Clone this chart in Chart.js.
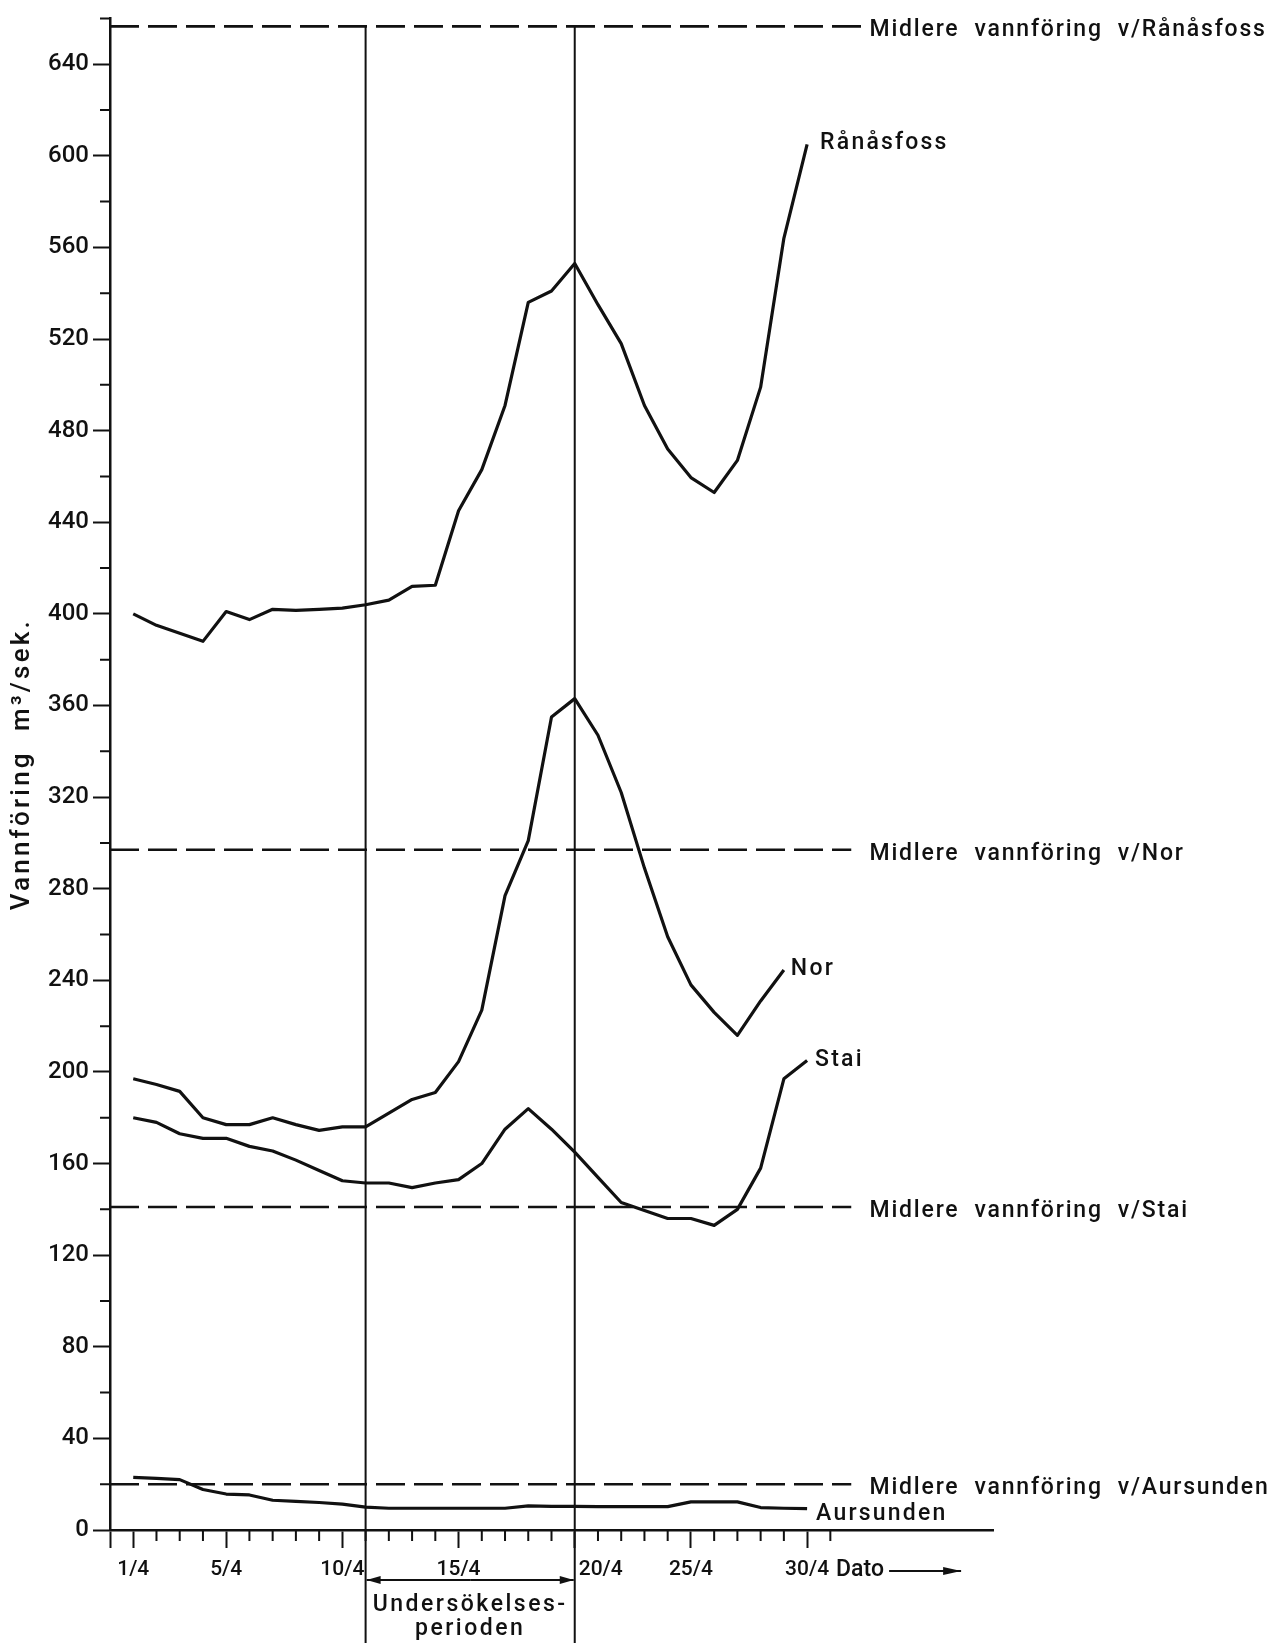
<!DOCTYPE html>
<html>
<head>
<meta charset="utf-8">
<script src="https://cdn.jsdelivr.net/npm/chart.js@4.4.0/dist/chart.umd.min.js"></script>
<style>
  html, body { margin: 0; padding: 0; background: #fff; }
  #wrap { width: 1280px; height: 1643px; position: relative; }
</style>
</head>
<body>
<div id="wrap"><canvas id="vannforingChart"></canvas></div>
<script>
// Dager i april (1/4 - 30/4)
const dager = [1, 2, 3, 4, 5, 6, 7, 8, 9, 10, 11, 12, 13, 14, 15, 16, 17, 18, 19, 20, 21, 22, 23, 24, 25, 26, 27, 28, 29, 30];

// Vannføring m3/sek
const ranasfoss = [400, 395, 391.5, 388, 401, 397.5, 402, 401.5, 402, 402.5, 404, 406, 412, 412.5, 445, 463, 491, 536, 541, 553, 535, 518, 491, 472, 459.5, 453, 467, 499, 564, 605];
const nor = [197, 194.5, 191.5, 180, 177, 177, 180, 177, 174.5, 176, 176, 182, 188, 191, 204.5, 227, 277, 301, 355, 363, 347, 322, 289, 259, 238, 226, 216, 231, 244.5];
const stai = [180, 178, 173, 171, 171, 167.5, 165.5, 161.5, 157, 152.5, 151.5, 151.5, 149.5, 151.5, 153, 160, 175, 184, 175, 165, 154, 143, 139.5, 136, 136, 133, 140, 158, 197, 205];
const aursunden = [23, 22.5, 22, 17.7, 15.7, 15.3, 13, 12.5, 12, 11.3, 10, 9.5, 9.5, 9.5, 9.5, 9.5, 9.5, 10.5, 10.3, 10.3, 10.2, 10.2, 10.2, 10.2, 12.3, 12.3, 12.3, 9.8, 9.5, 9.3];

// Midlere vannføring
const middelNavn = ['Rånåsfoss', 'Nor', 'Stai', 'Aursunden'];
const middelVerdi = [656.5, 297, 141, 20];

// Undersøkelsesperioden
const periodeStart = 11;
const periodeSlutt = 20;

// Akser
const xTickDager = [0, 1, 5, 10, 15, 20, 25, 30];
const yTickVerdier = [0, 40, 80, 120, 160, 200, 240, 280, 320, 360, 400, 440, 480, 520, 560, 600, 640];

const svart = '#111';
const familie = 'Roboto, "DejaVu Sans", sans-serif';
const tekstFont = '500 23px ' + familie;

function tilPunkter(verdier) {
    return verdier.map((v, i) => ({ x: dager[i], y: v }));
}

const serier = [
    { navn: 'Rånåsfoss', data: ranasfoss, dx: 13, dy: -1 },
    { navn: 'Nor', data: nor, dx: 7, dy: -1 },
    { navn: 'Stai', data: stai, dx: 8, dy: 0 },
    { navn: 'Aursunden', data: aursunden, dx: 9, dy: 6 }
];

const datasets = [];

// Stiplede middellinjer
middelVerdi.forEach((v, i) => {
    datasets.push({
        label: 'Midlere ' + middelNavn[i],
        data: [{ x: 0, y: v }, { x: i === 0 ? 32.6 : 31.9, y: v }],
        borderColor: svart,
        borderWidth: 2.6,
        borderDash: [29, 9],
        pointRadius: 0
    });
});

// Loddrette linjer for perioden
[periodeStart, periodeSlutt].forEach(d => {
    datasets.push({
        label: 'periode ' + d,
        data: [{ x: d, y: 657 }, { x: d, y: -50 }],
        borderColor: svart,
        borderWidth: 2,
        pointRadius: 0,
        clip: false
    });
});

serier.forEach(s => {
    datasets.push({
        label: s.navn,
        data: tilPunkter(s.data),
        borderColor: svart,
        borderWidth: 3.2,
        borderJoinStyle: 'round',
        pointRadius: 0,
        tension: 0
    });
});

function pil(ctx, x0, x1, y, tupp) {
    ctx.beginPath();
    ctx.moveTo(x0, y);
    ctx.lineTo(x1, y);
    ctx.stroke();
    const retning = Math.sign(x1 - x0);
    ctx.beginPath();
    ctx.moveTo(x1, y);
    ctx.lineTo(x1 - retning * tupp, y - 4);
    ctx.lineTo(x1 - retning * tupp, y + 4);
    ctx.closePath();
    ctx.fill();
}

const annotasjoner = {
    id: 'annotasjoner',
    afterDraw(chart) {
        const { ctx, scales: { x, y } } = chart;
        ctx.save();
        ctx.strokeStyle = svart;
        ctx.fillStyle = svart;
        ctx.lineWidth = 2;

        // Små tikkstreker
        ctx.beginPath();
        for (let d = 2; d <= 31; d++) {
            if (xTickDager.includes(d)) continue;
            const px = x.getPixelForValue(d);
            ctx.moveTo(px, y.bottom);
            ctx.lineTo(px, y.bottom + 11);
        }
        for (let v = 20; v <= 660; v += 40) {
            const py = y.getPixelForValue(v);
            ctx.moveTo(x.left, py);
            ctx.lineTo(x.left - 10, py);
        }
        ctx.stroke();

        ctx.font = tekstFont;
        ctx.letterSpacing = '1.8px';
        ctx.textBaseline = 'middle';

        // Tekst for middellinjer
        ctx.textAlign = 'left';
        const tekstX = x.getPixelForValue(32.6) + 2;
        middelVerdi.forEach((v, i) => {
            ctx.fillText('Midlere  vannföring  v/' + middelNavn[i], tekstX, y.getPixelForValue(v) + 4);
        });

        // Navn ved enden av kurvene
        ctx.letterSpacing = '2.2px';
        serier.forEach(s => {
            const n = s.data.length - 1;
            ctx.fillText(s.navn, x.getPixelForValue(dager[n]) + s.dx, y.getPixelForValue(s.data[n]) + s.dy);
        });

        // 20/4 står til høyre for linjen
        ctx.letterSpacing = '0px';
        ctx.font = '500 21px ' + familie;
        ctx.fillText('20/4', x.getPixelForValue(20) + 4, y.bottom + 40);

        // Dato-pil
        ctx.font = tekstFont;
        ctx.fillText('Dato', x.getPixelForValue(30) + 29, y.bottom + 40);
        pil(ctx, x.getPixelForValue(30) + 82, x.getPixelForValue(30) + 154, y.bottom + 41, 18);

        // Undersøkelsesperioden
        const p0 = x.getPixelForValue(periodeStart);
        const p1 = x.getPixelForValue(periodeSlutt);
        const py = y.bottom + 50;
        ctx.lineWidth = 2;
        pil(ctx, (p0 + p1) / 2, p0 + 1, py, 14);
        pil(ctx, (p0 + p1) / 2, p1 - 1, py, 14);
        ctx.textAlign = 'center';
        ctx.letterSpacing = '2.5px';
        ctx.fillText('Undersökelses-', (p0 + p1) / 2, py + 25);
        ctx.fillText('perioden', (p0 + p1) / 2, py + 49);

        // Aksetittel
        ctx.save();
        ctx.translate(22, (y.top + y.bottom) / 2 - 10);
        ctx.rotate(-Math.PI / 2);
        ctx.font = '500 26px ' + familie;
        ctx.letterSpacing = '3.2px';
        ctx.fillText('Vannföring  m³/sek.', 0, 0);
        ctx.restore();

        ctx.restore();
    }
};

new Chart(document.getElementById('vannforingChart'), {
    type: 'line',
    data: { datasets },
    options: {
        responsive: true,
        maintainAspectRatio: false,
        animation: false,
        layout: { padding: { top: 18, right: 287, left: 0, bottom: 0 } },
        plugins: {
            legend: { display: false },
            tooltip: { enabled: false }
        },
        scales: {
            x: {
                type: 'linear',
                min: 0,
                max: 38.0,
                afterFit: scale => { scale.height = 113; },
                afterBuildTicks: scale => { scale.ticks = xTickDager.map(v => ({ value: v })); },
                border: { display: true, color: svart, width: 2.5 },
                grid: { drawOnChartArea: false, drawTicks: true, tickLength: 18, tickColor: svart, tickWidth: 2 },
                ticks: {
                    autoSkip: false,
                    maxRotation: 0,
                    padding: 9,
                    color: svart,
                    font: { family: familie, size: 21, weight: 500 },
                    callback: v => (v === 0 || v === 20) ? '' : v + '/4'
                }
            },
            y: {
                type: 'linear',
                min: 0,
                max: 660,
                afterFit: scale => { scale.width = 110; },
                afterBuildTicks: scale => { scale.ticks = yTickVerdier.map(v => ({ value: v })); },
                border: { display: true, color: svart, width: 2.5 },
                grid: { drawOnChartArea: false, drawTicks: true, tickLength: 17, tickColor: svart, tickWidth: 2 },
                ticks: {
                    padding: 4,
                    color: svart,
                    font: { family: familie, size: 24, weight: 500 },
                    callback: v => v
                }
            }
        }
    },
    plugins: [annotasjoner]
});
</script>
</body>
</html>
